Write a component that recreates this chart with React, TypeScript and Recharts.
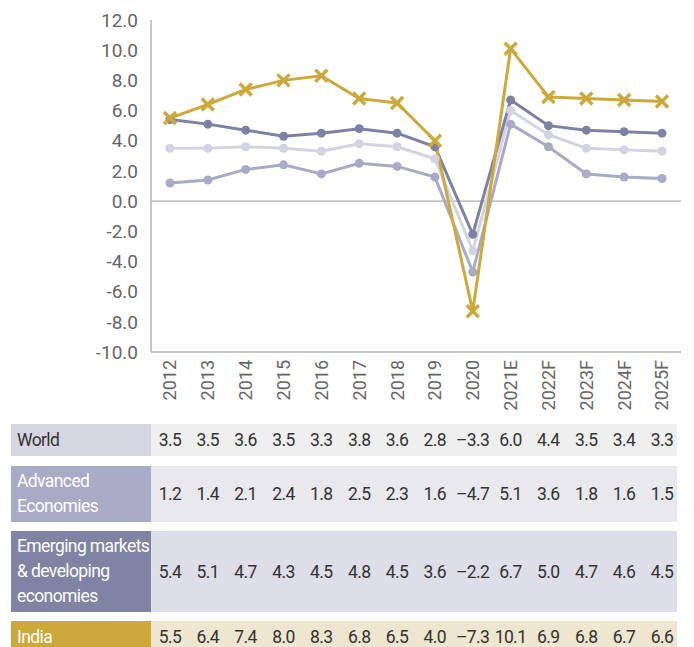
import React from 'react';
import { LineChart, Line, XAxis, YAxis, ReferenceLine } from 'recharts';

const years = ['2012', '2013', '2014', '2015', '2016', '2017', '2018', '2019', '2020', '2021E', '2022F', '2023F', '2024F', '2025F'];
const world = [3.5, 3.5, 3.6, 3.5, 3.3, 3.8, 3.6, 2.8, -3.3, 6.0, 4.4, 3.5, 3.4, 3.3];
const advanced = [1.2, 1.4, 2.1, 2.4, 1.8, 2.5, 2.3, 1.6, -4.7, 5.1, 3.6, 1.8, 1.6, 1.5];
const emerging = [5.4, 5.1, 4.7, 4.3, 4.5, 4.8, 4.5, 3.6, -2.2, 6.7, 5.0, 4.7, 4.6, 4.5];
const india = [5.5, 6.4, 7.4, 8.0, 8.3, 6.8, 6.5, 4.0, -7.3, 10.1, 6.9, 6.8, 6.7, 6.6];
const yTicks = [-10, -8, -6, -4, -2, 0, 2, 4, 6, 8, 10, 12];

const data = years.map((year, i) => ({
  year,
  world: world[i],
  advanced: advanced[i],
  emerging: emerging[i],
  india: india[i],
}));

const rows = [
  { label: ['World'], values: world, labelBg: '#d6d6e2', labelColor: '#333', cellBg: '#efefef', top: 424, height: 32 },
  { label: ['Advanced', 'Economies'], values: advanced, labelBg: '#a9abc6', labelColor: '#fff', cellBg: '#e8e8ed', top: 466, height: 56 },
  { label: ['Emerging markets', '& developing', 'economies'], values: emerging, labelBg: '#8183a5', labelColor: '#fff', cellBg: '#dedee8', top: 531, height: 81 },
  { label: ['India'], values: india, labelBg: '#cca93a', labelColor: '#fff', cellBg: '#efe6cf', top: 621, height: 32 },
];

const fmt = (v: number) => (v < 0 ? `\u2013${Math.abs(v).toFixed(1)}` : v.toFixed(1));

const YearTick = (props: any) => {
  const { x, y, payload } = props;
  return (
    <g transform={`translate(${x},${y})`}>
      <text transform="rotate(-90)" textAnchor="end" dy="0.36em" fill="#666" fontSize={18} fontFamily="Roboto">
        {payload.value}
      </text>
    </g>
  );
};

const Cross = (props: any) => {
  const { cx, cy } = props;
  if (cx == null || cy == null) return null;
  const s = 6;
  return (
    <g key={`${cx}-${cy}`}>
      <line x1={cx - s} y1={cy - s} x2={cx + s} y2={cy + s} stroke="#cca93a" strokeWidth={3.5} />
      <line x1={cx - s} y1={cy + s} x2={cx + s} y2={cy - s} stroke="#cca93a" strokeWidth={3.5} />
    </g>
  );
};

const PLOT_LEFT = 151;
const COL_W = (681 - 151) / years.length;

export default function App() {
  return (
    <div style={{ position: 'absolute', left: 0, top: 0, width: 694, height: 647, overflow: 'hidden', background: '#fff', fontFamily: 'Roboto' }}>
      <LineChart width={694} height={420} data={data} margin={{ top: 20, right: 13, left: 0, bottom: 0 }}>
        <XAxis dataKey="year" height={68} interval={0} padding={{ left: 19, right: 19 }} tick={<YearTick />} tickLine={false} tickSize={0} tickMargin={8} axisLine={{ stroke: '#b5b5b5', strokeWidth: 1.5 }} />
        <YAxis width={151} domain={[-10, 12]} ticks={yTicks} tickFormatter={(v) => v.toFixed(1)} tickLine={false} tickSize={0} tickMargin={13} axisLine={{ stroke: '#b5b5b5', strokeWidth: 1.5 }} tick={{ fill: '#666', fontSize: 19, fontFamily: 'Roboto' }} interval={0} />
        <ReferenceLine y={0} stroke="#999" strokeWidth={1} />
        <Line type="linear" dataKey="world" stroke="#d3d3e1" strokeWidth={3} dot={{ r: 4.5, fill: '#d3d3e1', stroke: 'none' }} isAnimationActive={false} />
        <Line type="linear" dataKey="advanced" stroke="#a9abc6" strokeWidth={3} dot={{ r: 4.5, fill: '#a9abc6', stroke: 'none' }} isAnimationActive={false} />
        <Line type="linear" dataKey="emerging" stroke="#7f81a4" strokeWidth={3} dot={{ r: 4.5, fill: '#7f81a4', stroke: 'none' }} isAnimationActive={false} />
        <Line type="linear" dataKey="india" stroke="#cca93a" strokeWidth={3} dot={<Cross />} isAnimationActive={false} />
      </LineChart>
      {rows.map((row) => (
        <div key={row.label.join(' ')} style={{ position: 'absolute', top: row.top, left: 11, height: row.height, display: 'flex' }}>
          <div style={{ width: PLOT_LEFT - 11, height: row.height, background: row.labelBg, color: row.labelColor, fontSize: 17.5, letterSpacing: -0.6, lineHeight: '25px', display: 'flex', flexDirection: 'column', justifyContent: 'center', paddingLeft: 6, boxSizing: 'border-box' }}>
            {row.label.map((l) => (
              <div key={l} style={{ whiteSpace: 'nowrap' }}>{l}</div>
            ))}
          </div>
          <div style={{ width: 677 - PLOT_LEFT, height: row.height, background: row.cellBg, display: 'flex', alignItems: 'center', color: '#333', fontSize: 17.5, letterSpacing: -0.6 }}>
            {row.values.map((v, i) => (
              <div key={i} style={{ width: COL_W, flex: 'none', textAlign: 'center', whiteSpace: 'nowrap' }}>{fmt(v)}</div>
            ))}
          </div>
        </div>
      ))}
    </div>
  );
}
